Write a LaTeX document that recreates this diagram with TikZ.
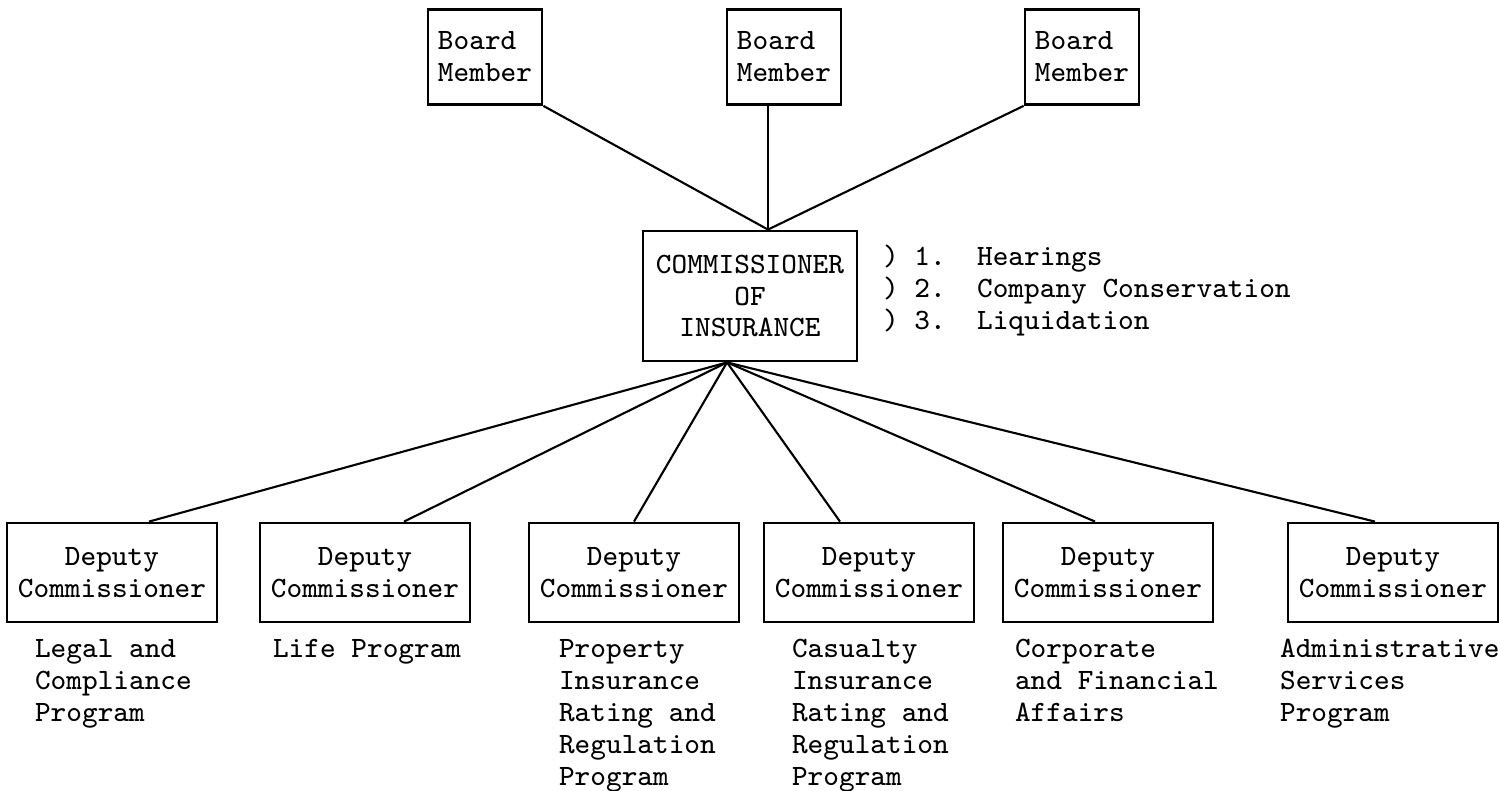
\documentclass[tikz,border=0pt]{standalone}
\usepackage{tikz}
\usetikzlibrary{calc}

\begin{document}
\begin{tikzpicture}[x=0.1mm, y=-0.1mm, line width=0.6pt,
    font=\ttfamily\fontsize{8.4}{9.1}\selectfont,
    board/.style={draw, line width=0.8pt, minimum width=11.4mm, minimum height=9.5mm, align=left, inner sep=0pt},
    chief/.style={draw, line width=0.8pt, minimum width=21.4mm, minimum height=13mm, align=center, inner sep=0pt},
    deputy/.style={draw, line width=0.8pt, minimum width=21mm, minimum height=9.9mm, align=center, inner sep=0pt},
    duty/.style={anchor=north west, align=left, inner sep=0pt}]
        \useasboundingbox (0,0) rectangle (1500,791);

        % board
        \node[board] (b1) at (485,57) {Board\\Member};
        \node[board] (b2) at (784,57) {Board\\Member};
        \node[board] (b3) at (1082,57) {Board\\Member};

        % commissioner
        \node[chief] (comm) at (750,296) {COMMISSIONER\\OF\\INSURANCE};
        \coordinate (ctop) at ($(comm.north)+(18,0)$);
        \coordinate (cbot) at ($(comm.south)+(-23,0)$);
        \node[anchor=west, align=left, inner sep=0pt] (tasks) at (882,291)
            {)~1.~~Hearings\\)~2.~~Company Conservation\\)~3.~~Liquidation};

        % deputies
        \node[deputy] (d1) at (112,572.5) {Deputy\\Commissioner};
        \node[deputy] (d2) at (365,572.5) {Deputy\\Commissioner};
        \node[deputy] (d3) at (634,572.5) {Deputy\\Commissioner};
        \node[deputy] (d4) at (869,572.5) {Deputy\\Commissioner};
        \node[deputy] (d5) at (1108,572.5) {Deputy\\Commissioner};
        \node[deputy] (d6) at (1393,572.5) {Deputy\\Commissioner};

        % programs
        \node[duty] (p1) at (34,638) {Legal and\\Compliance\\Program};
        \node[duty] (p2) at (272,638) {Life Program};
        \node[duty] (p3) at (558,638) {Property\\Insurance\\Rating and\\Regulation\\Program};
        \node[duty] (p4) at (791,638) {Casualty\\Insurance\\Rating and\\Regulation\\Program};
        \node[duty] (p5) at (1014,638) {Corporate\\and Financial\\Affairs};
        \node[duty] (p6) at (1279,638) {Administrative\\Services\\Program};

        % lines
        \draw (b1.south east) -- (ctop);
        \draw (ctop |- b2.south) -- (ctop);
        \draw (b3.south west) -- (ctop);
        \draw (cbot) -- ($(d1.north)+(37,0)$);
        \draw (cbot) -- ($(d2.north)+(39,0)$);
        \draw (cbot) -- (d3.north);
        \draw (cbot) -- ($(d4.north)+(-29,0)$);
        \draw (cbot) -- ($(d5.north)+(-13,0)$);
        \draw (cbot) -- ($(d6.north)+(-18,0)$);
    \end{tikzpicture}
\end{document}
